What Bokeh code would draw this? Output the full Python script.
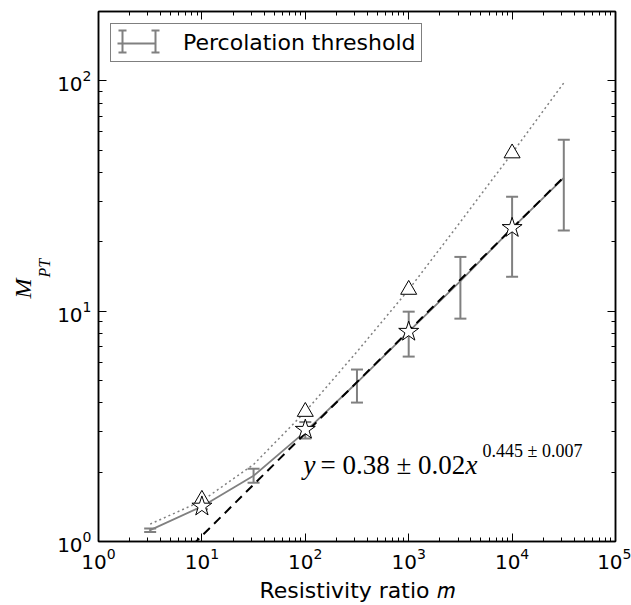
import numpy as np
from bokeh.plotting import figure
from bokeh.models import (LogAxis, FixedTicker, Label, Legend, LegendItem, Range1d, Title)
from bokeh.embed import file_html
from bokeh.resources import INLINE

# ---------------- data ----------------
m_pt = [3.16, 10, 31.6, 100, 316, 1000, 3162, 10000, 31623]
mpt_mean = [1.12, 1.42, 1.93, 3.00, 4.90, 8.15, 13.5, 22.9, 37.9]
mpt_low = [1.10, 1.38, 1.80, 2.80, 4.01, 6.35, 9.28, 14.1, 22.4]
mpt_high = [1.14, 1.46, 2.07, 3.30, 5.58, 9.95, 17.2, 31.4, 55.5]

star_m = [10, 100, 1000, 10000]
star_y = [1.42, 3.06, 8.15, 23.0]

tri_m = [10, 100, 1000, 10000]
tri_y = [1.52, 3.66, 12.4, 48.5]

dot_m = [3.16, 10, 31.6, 100, 316, 1000, 3162, 10000, 31623]
dot_y = [1.19, 1.50, 2.16, 3.66, 6.67, 12.4, 24.4, 48.5, 98.0]

fit_m = [3.16, 31623]
fit_y = [0.634, 38.2]

x_major = [1, 10, 100, 1000, 10000, 100000]
y_major = [1, 10, 100]

# ---------------- layout ----------------
W, H = 631, 605
FL, FR, FT, FB = 98, 615, 11, 542
XMIN, XMAX, YMIN, YMAX = 1, 1e5, 1, 200

def dx(px):
    return 10 ** (np.log10(XMIN) + (px - FL) / (FR - FL) * (np.log10(XMAX) - np.log10(XMIN)))

def dy(py):
    return 10 ** (np.log10(YMIN) + (FB - py) / (FB - FT) * (np.log10(YMAX) - np.log10(YMIN)))

GRAY = "#808080"

p = figure(width=W, height=H, x_axis_type="log", y_axis_type="log",
           x_range=Range1d(XMIN, XMAX), y_range=Range1d(YMIN, YMAX),
           output_backend="svg", toolbar_location=None,
           min_border_left=FL, min_border_right=W - FR,
           min_border_top=FT, min_border_bottom=H - FB)
p.background_fill_color = "white"
p.border_fill_color = "white"
p.grid.visible = False
p.outline_line_color = "black"
p.outline_line_width = 1.5

x_minor = [m * 10 ** k for k in range(5) for m in range(2, 10)]
y_minor = [m * 10 ** k for k in range(3) for m in range(2, 10) if m * 10 ** k <= YMAX]


def style_axis(ax, labels=True):
    ax.axis_line_color = "black"
    ax.axis_line_width = 1.5
    ax.major_tick_in = 8
    ax.major_tick_out = 0
    ax.minor_tick_in = 4
    ax.minor_tick_out = 0
    ax.major_tick_line_color = "black"
    ax.minor_tick_line_color = "black"
    ax.major_tick_line_width = 1
    ax.minor_tick_line_width = 1
    ax.major_label_text_font = "DejaVu Sans"
    ax.major_label_text_color = "black"
    if labels:
        ax.major_label_text_font_size = "20px"
        ax.major_label_standoff = 7
    else:
        ax.major_label_text_font_size = "2px"
        ax.major_label_text_alpha = 0
        ax.major_label_standoff = 0


p.xaxis.ticker = FixedTicker(ticks=x_major, minor_ticks=x_minor)
p.yaxis.ticker = FixedTicker(ticks=y_major, minor_ticks=y_minor)
for ax in p.xaxis:
    style_axis(ax)
    ax.major_label_standoff = 6
    ax.axis_label = "Resistivity ratio \U0001D45A"
    ax.axis_label_text_font = "DejaVu Sans"
    ax.axis_label_text_font_style = "normal"
    ax.axis_label_text_font_size = "22px"
    ax.axis_label_text_color = "black"
    ax.axis_label_standoff = 6
for ax in p.yaxis:
    style_axis(ax)

top = LogAxis(ticker=FixedTicker(ticks=x_major, minor_ticks=x_minor))
right = LogAxis(ticker=FixedTicker(ticks=y_major, minor_ticks=y_minor))
style_axis(top, labels=False)
style_axis(right, labels=False)
p.add_layout(top, "above")
p.add_layout(right, "right")

# y-axis title: M with subscript PT (two stacked titles in the left panel)
t_pt = Title(text="PT", text_font="Liberation Serif", text_font_style="italic",
             text_font_size="16px", text_color="black", align="left",
             offset=FB - 278, standoff=0, vertical_align="top")
t_m = Title(text="M", text_font="Liberation Serif", text_font_style="italic",
            text_font_size="24px", text_color="black", align="left",
            offset=FB - 299, standoff=0, vertical_align="bottom")
p.add_layout(t_pt, "left")
p.add_layout(t_m, "left")

# ---------------- data marks ----------------
p.line(dot_m, dot_y, line_color=GRAY, line_width=1.5, line_dash="2 3")
line_r = p.line(m_pt, mpt_mean, line_color=GRAY, line_width=1.8)
p.segment(x0=m_pt, y0=mpt_low, x1=m_pt, y1=mpt_high, line_color=GRAY, line_width=2)
p.scatter(m_pt, mpt_low, marker="dash", size=12, line_color=GRAY, line_width=2)
p.scatter(m_pt, mpt_high, marker="dash", size=12, line_color=GRAY, line_width=2)
p.line(fit_m, fit_y, line_color="black", line_width=2, line_dash="9 6")
p.scatter(tri_m, tri_y, marker="triangle", size=16, fill_color="white",
          line_color="black", line_width=1)
p.scatter(star_m, star_y, marker="star", size=21, fill_color="white",
          line_color="black", line_width=1)

# ---------------- legend ----------------
LEG_MARGIN, LEG_PAD, GW = 12, 6, 39
legend = Legend(items=[LegendItem(label="Percolation threshold", renderers=[line_r])],
                location="top_left", margin=LEG_MARGIN, padding=LEG_PAD,
                glyph_width=GW, glyph_height=22, label_standoff=27,
                label_text_font="DejaVu Sans", label_text_font_size="22px",
                label_text_color="black",
                border_line_color="black", border_line_width=1.5,
                background_fill_alpha=0.0)
p.add_layout(legend)

# error-bar caps for the legend icon (seen through the transparent legend box)
cx0, cx1, gy = 122, 155, 41
cap_x = [dx(cx0), dx(cx1)]
p.segment(x0=cap_x, y0=[dy(gy + 11)] * 2, x1=cap_x, y1=[dy(gy - 11)] * 2,
          line_color=GRAY, line_width=2)
p.segment(x0=[dx(cx0 - 4), dx(cx1 - 4), dx(cx0 - 4), dx(cx1 - 4)],
          y0=[dy(gy - 11)] * 2 + [dy(gy + 11)] * 2,
          x1=[dx(cx0 + 4), dx(cx1 + 4), dx(cx0 + 4), dx(cx1 + 4)],
          y1=[dy(gy - 11)] * 2 + [dy(gy + 11)] * 2,
          line_color=GRAY, line_width=2)

# ---------------- fit equation ----------------
MAIN_C, SUP_C = 465, 451
p.add_layout(Label(x=dx(303), y=dy(MAIN_C), text="y",
                   text_font="Liberation Serif", text_font_style="italic",
                   text_font_size="27px", text_baseline="middle", text_color="black"))
p.add_layout(Label(x=dx(320), y=dy(MAIN_C), text="= 0.38 \u00b1 0.02",
                   text_font="Liberation Serif",
                   text_font_size="27px", text_baseline="middle", text_color="black"))
p.add_layout(Label(x=dx(465), y=dy(MAIN_C), text="x",
                   text_font="Liberation Serif", text_font_style="italic",
                   text_font_size="27px", text_baseline="middle", text_color="black"))
p.add_layout(Label(x=dx(482), y=dy(SUP_C), text="0.445 \u00b1 0.007",
                   text_font="Liberation Serif",
                   text_font_size="18px", text_baseline="middle", text_color="black"))

open("out.html", "w").write(file_html(p, INLINE))
